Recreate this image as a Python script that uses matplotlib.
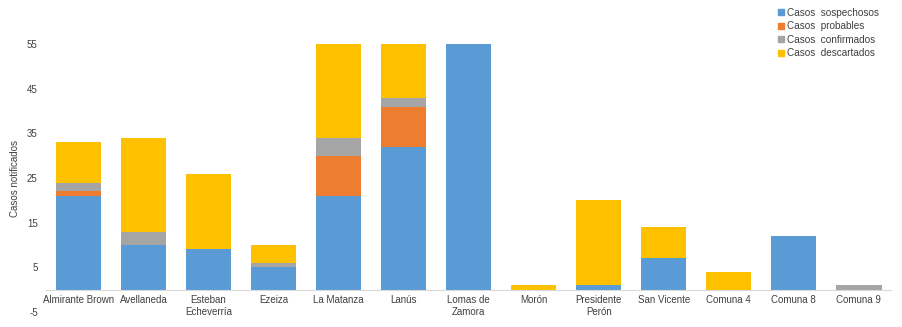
import numpy as np
import matplotlib.pyplot as plt
from matplotlib.lines import Line2D

plt.rcParams['font.family'] = ['Liberation Sans', 'DejaVu Sans']
plt.rcParams['axes.unicode_minus'] = False

partidos = ['Almirante Brown', 'Avellaneda', 'Esteban\nEcheverría', 'Ezeiza', 'La Matanza',
            'Lanús', 'Lomas de\nZamora', 'Morón', 'Presidente\nPerón', 'San Vicente',
            'Comuna 4', 'Comuna 8', 'Comuna 9']
sospechosos = [21, 10, 9, 5, 21, 32, 55, 0, 1, 7, 0, 12, 0]
probables = [1, 0, 0, 0, 9, 9, 0, 0, 0, 0, 0, 0, 0]
confirmados = [2, 3, 0, 1, 4, 2, 0, 0, 0, 0, 0, 0, 1]
descartados = [9, 21, 17, 4, 21, 12, 0, 1, 19, 7, 4, 0, 0]

series = [('Casos  sospechosos', sospechosos, '#5B9BD5'),
          ('Casos  probables', probables, '#ED7D31'),
          ('Casos  confirmados', confirmados, '#A5A5A5'),
          ('Casos  descartados', descartados, '#FFC000')]

fig = plt.figure(figsize=(9.03, 3.27), dpi=100)
ax = fig.add_axes([0.051, 0.046, 0.936, 0.819])

x = np.arange(len(partidos))
bottom = np.zeros(len(partidos))
handles = []
for name, vals, col in series:
    vals = np.array(vals, dtype=float)
    ax.bar(x, vals, 0.7, bottom=bottom, color=col, zorder=2)
    bottom += vals
    handles.append(Line2D([], [], marker='s', linestyle='none', color=col,
                          markersize=4.5, label=name))

ax.set_xlim(-0.5, len(partidos) - 0.5)
ax.set_ylim(-5, 55)
ax.set_yticks([-5, 5, 15, 25, 35, 45, 55])
ax.set_xticks(x)
ax.set_xticklabels(partidos, fontsize=7, color='#404040', linespacing=1.1)

# category axis sits on zero
for s in ['top', 'right', 'left']:
    ax.spines[s].set_visible(False)
ax.spines['bottom'].set_position(('data', 0))
ax.spines['bottom'].set_color('#D9D9D9')
ax.spines['bottom'].set_zorder(3)
ax.tick_params(axis='both', length=0, labelsize=7, labelcolor='#404040')
ax.tick_params(axis='x', pad=4)
ax.tick_params(axis='y', pad=6)
ax.set_ylabel('Casos notificados', fontsize=7, color='#404040', labelpad=5)

fig.legend(handles=handles, loc='upper left', bbox_to_anchor=(0.857, 0.988),
           frameon=False, fontsize=7.2, handlelength=0.6, handletextpad=0.3,
           labelspacing=0.35, borderaxespad=0, labelcolor='#404040')

fig.savefig('out.png', dpi=100)
